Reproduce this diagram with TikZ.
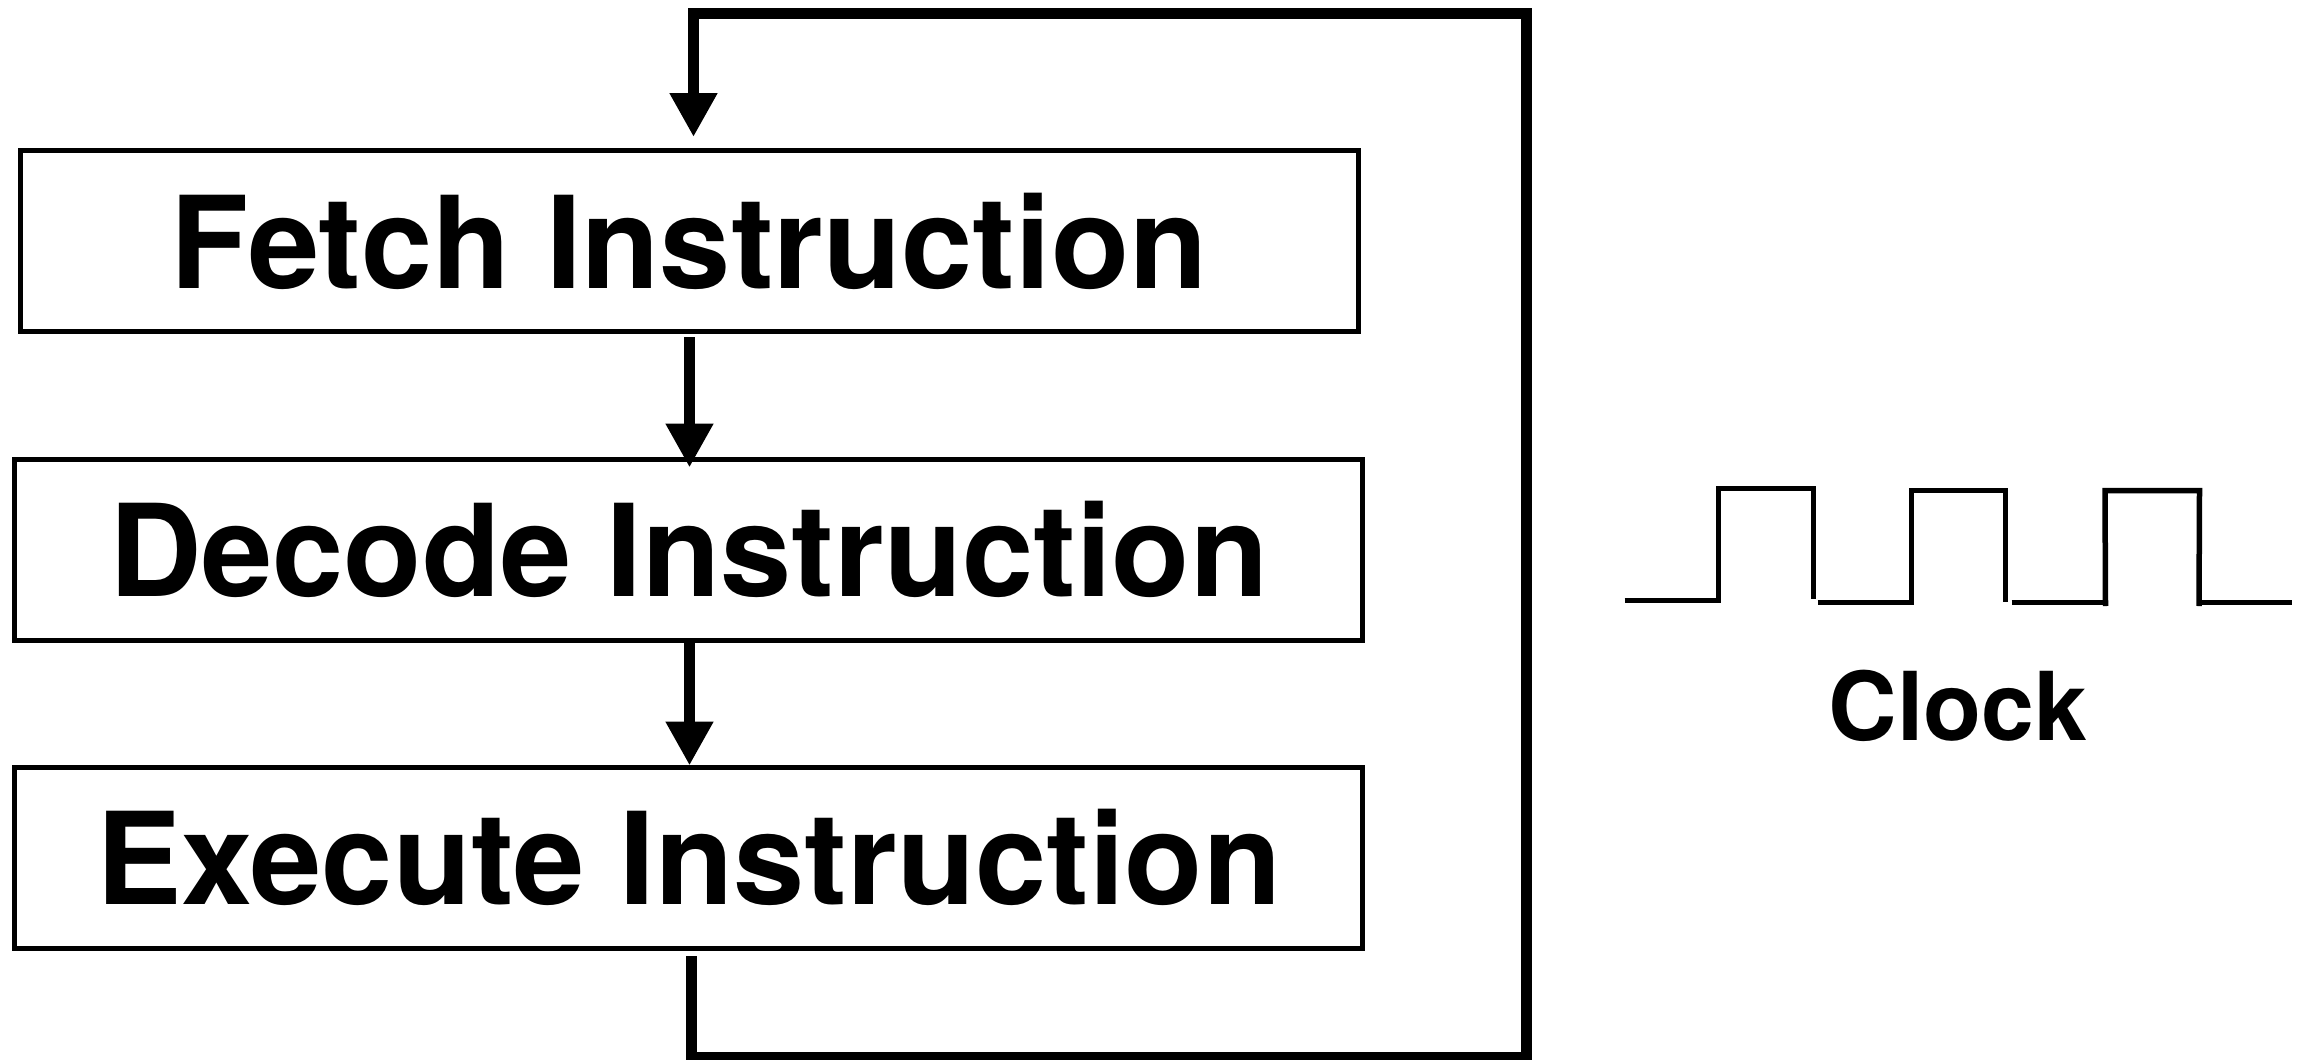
\documentclass[tikz,border=0pt]{standalone}
\usepackage{fontspec}
\setmainfont{TeX Gyre Heros}
\usetikzlibrary{arrows.meta}
\begin{document}
\begin{tikzpicture}[x=1pt,y=-1pt,
  stagebox/.style={draw, line width=5pt, inner sep=0pt, minimum height=181.5pt,
    font=\fontsize{128}{150}\selectfont\bfseries},
  flowarrow/.style={line width=11pt, -{Triangle[width=45pt,length=44pt]}},
  loopline/.style={line width=11pt, line join=miter},
  wave/.style={line width=5pt, line join=miter}]
\useasboundingbox (0,0) rectangle (2300,1060);
\node[stagebox, minimum width=1338pt, minimum height=181pt] (fetch) at (689,241) {Fetch Instruction};
\node[stagebox, minimum width=1348pt] (decode) at (688.7,549.75) {Decode Instruction};
\node[stagebox, minimum width=1348pt] (execute) at (688.7,857.75) {Execute Instruction};
\draw[flowarrow, shorten <=3pt, shorten >=-11pt] ([xshift=0.5pt]fetch.south) -- ([xshift=0.8pt]decode.north);
\draw[flowarrow, shorten <=-5pt, shorten >=-1pt] ([xshift=0.8pt]decode.south) -- ([xshift=0.8pt]execute.north);
\coordinate (br) at (1526.5,1057);
\coordinate (tl) at (693.5,13.5);
\draw[loopline] ([xshift=2.8pt,yshift=-5pt]execute.south) |- (br) |- (tl);
\draw[flowarrow, line cap=butt, shorten >=11pt] ([yshift=5.5pt]tl) -- (tl |- fetch.north);
% clock
\draw[wave] (1624.5,600.5) -- (1718.5,600.5) -- (1718.5,488.5) -- (1813.5,488.5) -- (1813.5,599);
\draw[wave] (1817.5,602.5) -- (1911,602.5) -- (1911,490.5) -- (2005.5,490.5) -- (2005.5,602);
\draw[wave] (2011.5,602.5) -- (2105,602.5);
\draw[wave, line width=5.5pt] (2105.5,606) -- (2105,490.5) -- (2199.5,490.5) -- (2199,606);
\draw[wave] (2199,602.5) -- (2292,602.5);
\node[anchor=base, inner sep=0pt, font=\fontsize{95}{110}\selectfont\bfseries] (clk) at (1958,740) {Clock};
\end{tikzpicture}
\end{document}
